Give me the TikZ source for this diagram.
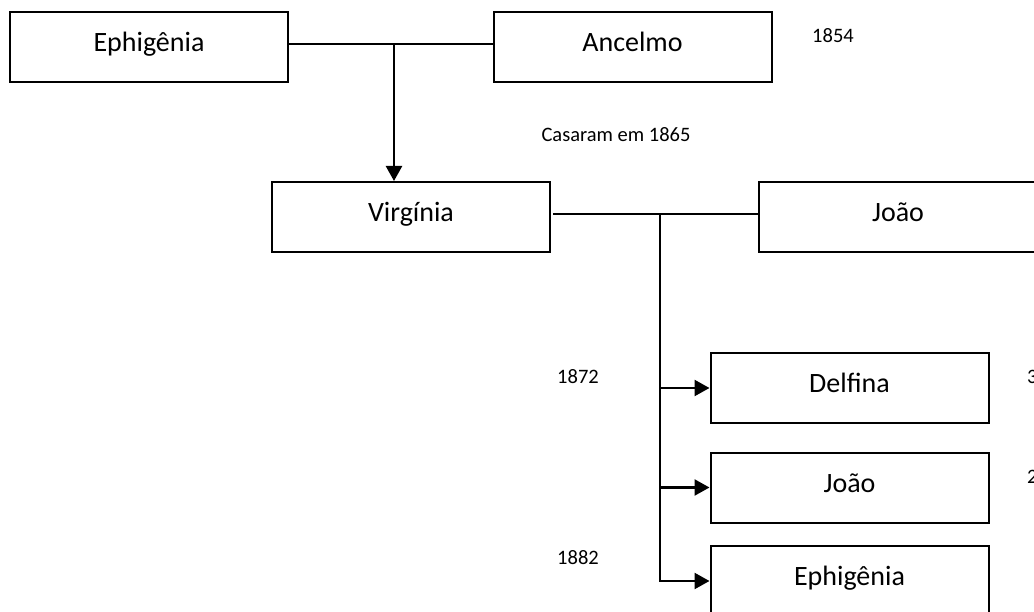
\documentclass[tikz,border=0pt]{standalone}
\usepackage{fontspec}
\setmainfont{Carlito}
\usetikzlibrary{arrows.meta}
\begin{document}
\begin{tikzpicture}[x=1pt,y=-1pt,
  person/.style={draw=black, line width=2pt, fill=white, rectangle, inner sep=0pt,
    minimum width=278pt, minimum height=70pt, font=\fontsize{28}{30}\selectfont,
    text height=19pt, text depth=10pt},
  note/.style={inner sep=0pt, font=\fontsize{20.5}{22}\selectfont},
  link/.style={line width=2.4pt, line cap=rect},
  arr/.style={link, -{Triangle[length=15pt,width=16pt]}}]
\useasboundingbox (0,0) rectangle (1034,612);
\clip (0,0) rectangle (1034,612);

% parents
\node[person] (eph)  at (149,47)    {Ephigênia};
\node[person] (anc)  at (632.5,47)  {Ancelmo};
\node[note]   (y54)  at (833,36)    {1854};

% couple
\node[person] (vir)  at (411,217)   {Virgínia};
\node[person] (joao) at (898,217)   {João};
\node[note]   (cas)  at (616,135)   {Casaram em 1865};

% children
\node[person] (del)   at (849.5,388)   {Delfina};
\node[person] (joao2) at (849.5,487.5) {João};
\node[person] (eph2)  at (849.5,581)   {Ephigênia};
\node[note]   (y72)   at (578,377) {1872};
\node[note]   (y82)   at (578,558) {1882};
\node[note, anchor=west] (n3) at (1027,377) {3};
\node[note, anchor=west] (n2) at (1027,477) {2};

% marriage lines and descent
\coordinate (j1) at (394,44);
\coordinate (j2) at (660,214);
\draw[link] ([yshift=3pt]eph.east) -- ([yshift=3pt]anc.west);
\draw[arr]  (j1) -- (j1 |- vir.north);
\draw[link] ([yshift=3pt,xshift=3pt]vir.east) -- ([yshift=3pt]joao.west);
\draw[arr]  (j2) |- (eph2.west);
\draw[arr]  (j2 |- del.west) -- (del.west);
\draw[arr]  (j2 |- joao2.west) -- (joao2.west);
\end{tikzpicture}
\end{document}
